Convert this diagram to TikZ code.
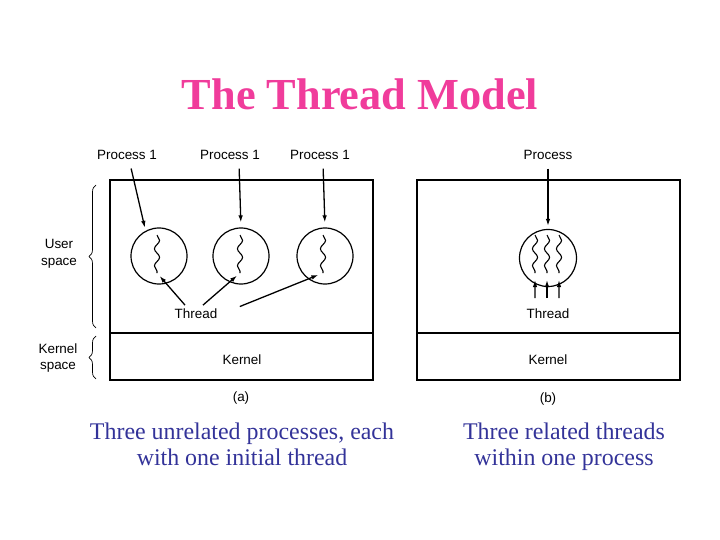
\documentclass[tikz,border=0pt]{standalone}
\usepackage{fontspec}
\setmainfont{Liberation Serif}
\setsansfont{Liberation Sans}
\usetikzlibrary{arrows.meta,decorations.pathmorphing,decorations.pathreplacing}
\definecolor{titlepink}{HTML}{F03C9B}
\definecolor{captionblue}{HTML}{333399}
\tikzset{>={Latex[length=7bp,width=4.5bp]},
  every node/.style={font=\sffamily\fontsize{13.5}{17}\selectfont},
  box/.style={draw,line width=1.4bp},
  proc/.style={circle,draw,line width=1.2bp,minimum size=56bp,inner sep=0pt},
  thread/.style={decorate,decoration={snake,amplitude=2.6bp,segment length=17bp},line width=1.1bp},
  spacebrace/.style={decorate,decoration={brace,amplitude=7bp},line width=.7bp},
  caption/.style={font=\rmfamily\fontsize{24}{26}\selectfont,text=captionblue,align=center}}

\begin{document}
\begin{tikzpicture}[x=1bp,y=-1bp,line width=1.3bp]
\useasboundingbox (0,0) rectangle (720,540);
\node[font=\rmfamily\bfseries\fontsize{44.5}{50}\selectfont,text=titlepink] (title) at (360,94) {The Thread Model};
% (a) three processes
\draw[box] (110,180) rectangle (373,380);\draw[box] (110,333) -- (373,333);
\foreach \i/\x in {1/159,2/241,3/325} \node[proc] (c\i) at (\x,256) {};
\foreach \i/\x in {1/157,2/240,3/323} {\draw[thread] (\x,235) -- (\x,273);\coordinate (s\i) at (\x,273);}
\node (p1) at (127,155) {Process 1};\node (p2) at (230,155) {Process 1};\node (p3) at (320,155) {Process 1};
\draw[->,shorten <=5bp,shorten >=3bp] ([xshift=3bp]p1.south) -- (c1.118);
\draw[->,shorten <=5bp,shorten >=5bp] ([xshift=9bp]p2.south) -- (c2.north);
\draw[->,shorten <=5bp,shorten >=5bp] ([xshift=3bp]p3.south) -- (c3.north);
\node (thrA) at (196,314) {Thread};
\draw[->,shorten >=4bp] ([xshift=-11bp]thrA.north) -- (s1);
\draw[->,shorten >=4bp] ([xshift=7bp]thrA.north) -- (s2);
\draw[->,shorten <=20bp,shorten >=5bp] (thrA.east) -- (s3);
\node (kerA) at (242,360) {Kernel};
\node (capA) at (241,398) {(a)};
\draw[spacebrace] (96,328) -- (96,185);\draw[spacebrace] (96,379) -- (96,336);
\node[align=center] (user) at (59,254) {User\\space};
\node[align=center] (kernel) at (58,358) {Kernel\\space};
% (b) one process, three threads
\draw[box] (417,180) rectangle (680,380);\draw[box] (417,333) -- (680,333);
\node[proc,minimum size=57bp] (cb) at (548,258) {};
\node (pb) at (548,155) {Process};
\draw[->,shorten <=5bp,shorten >=3bp] (pb.south) -- (cb.north);
\foreach \i/\x in {1/535,2/547,3/559} {\draw[thread] (\x,235) -- (\x,273);\coordinate (u\i) at (\x,273);}
\node (thrB) at (548,314) {Thread};
\foreach \i/\dx in {1/-13,2/-1,3/11} \draw[->,shorten <=7bp,shorten >=7bp] ([xshift=\dx bp]thrB.north) -- (u\i);
\node (kerB) at (548,360) {Kernel};
\node (capB) at (548,399) {(b)};
\node[caption] (textA) at (242,444) {Three unrelated processes, each\\with one initial thread};
\node[caption] (textB) at (564,447) {Three related threads\\within one process};
\end{tikzpicture}
\end{document}
